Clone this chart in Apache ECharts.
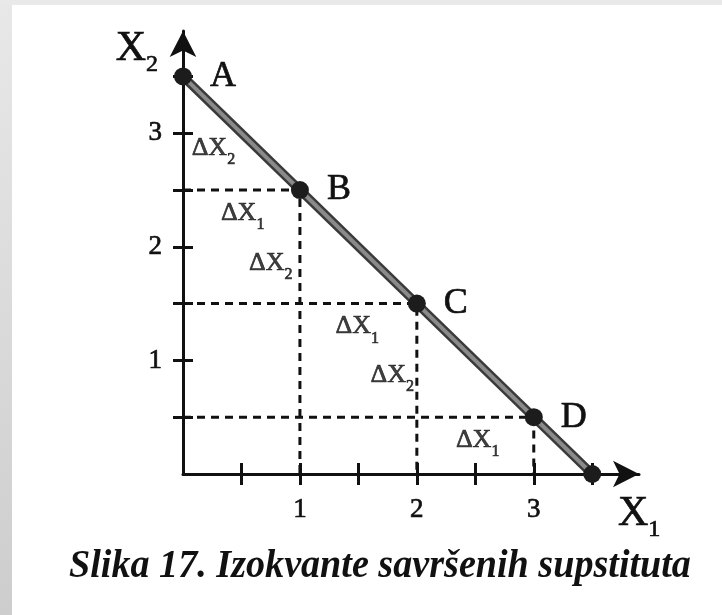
<!DOCTYPE html>
<html>
<head>
<meta charset="utf-8">
<script src="https://cdn.jsdelivr.net/npm/echarts@6/dist/echarts.min.js"></script>
<style>
  html, body { margin: 0; padding: 0; background: #fff; }
  #chart { width: 722px; height: 615px; }
</style>
</head>
<body>
<div id="chart"></div>
<script>
  // isoquant: points A..D and the X1 intercept
  let pointNames = ['A', 'B', 'C', 'D', '']
  let pointX1 = [0, 1, 2, 3, 3.5]
  let pointX2 = [3.5, 2.5, 1.5, 0.5, 0]
  // axes
  let tickValues = [0.5, 1, 1.5, 2, 2.5, 3, 3.5]
  let tickLabels = [1, 2, 3]
  // delta annotations, placed in data units
  let deltaX1 = [0.26, 0.51, 0.75, 1.49, 1.79, 2.52]
  let deltaX2 = [2.87, 2.30, 1.86, 1.30, 0.87, 0.30]
  let deltaSub = ['2', '1', '2', '1', '2', '1']
  let caption = 'Slika 17. Izokvante savršenih supstituta'

  let serif = '"Liberation Serif", "Times New Roman", serif'
  let ink = '#111'
  // scanned print looks heavier than a clean font
  let heavy = { textBorderColor: ink, textBorderWidth: 0.7 }

  let myChart = echarts.init(document.getElementById('chart'))

  let linePts = pointX1.map((x, i) => [x, pointX2[i]])

  let series = []
  // dashed guides from B, C, D to both axes
  for (let i = 1; i <= 3; i++) {
    series.push({
      type: 'line',
      data: [[0, pointX2[i]], [pointX1[i], pointX2[i]], [pointX1[i], 0]],
      showSymbol: false,
      clip: false,
      z: 2,
      lineStyle: { color: ink, width: 3, type: [8, 6] }
    })
  }
  // thick pencil line (dark edge + grey core)
  series.push({
    type: 'line',
    data: linePts,
    showSymbol: false,
    clip: false,
    z: 3,
    lineStyle: { color: '#3a3a3a', width: 9 }
  })
  series.push({
    type: 'line',
    data: linePts.map((p, i) => ({ value: p, name: pointNames[i] })),
    clip: false,
    z: 4,
    symbol: 'circle',
    symbolSize: 18,
    itemStyle: { color: '#1c1c1c' },
    lineStyle: { color: '#8a8a8a', width: 4 },
    label: Object.assign({
      show: true,
      position: 'right',
      distance: 18,
      formatter: p => p.name,
      fontFamily: serif,
      fontSize: 36,
      color: ink
    }, heavy)
  })
  // ΔX labels
  series.push({
    type: 'scatter',
    data: deltaX1.map((x, i) => ({ value: [x, deltaX2[i]], sub: deltaSub[i] })),
    symbolSize: 0,
    z: 5,
    label: {
      show: true,
      position: 'inside',
      formatter: p => '{d|ΔX}{s|' + p.data.sub + '}',
      rich: {
        d: Object.assign({ fontFamily: serif, fontSize: 26, lineHeight: 30, color: ink }, heavy),
        s: Object.assign({ fontFamily: serif, fontSize: 16, lineHeight: 16, padding: [24, 0, 0, 0], color: ink }, heavy)
      }
    }
  })

  let nameRich = {
    d: Object.assign({ fontFamily: serif, fontSize: 42, lineHeight: 46, color: ink }, heavy),
    s: Object.assign({ fontFamily: serif, fontSize: 24, lineHeight: 24, padding: [32, 0, 0, 0], color: ink }, heavy)
  }

  let tickLabelStyle = Object.assign({ fontFamily: serif, fontSize: 27, color: ink }, heavy)

  let axisBase = {
    type: 'value',
    min: 0,
    max: 3.9,
    splitLine: { show: false }
  }

  let option = {
    animation: false,
    backgroundColor: '#fff',
    grid: { left: 183, top: 31, width: 456, height: 443, outerBoundsMode: 'none' },
    xAxis: [
      Object.assign({}, axisBase, {
        position: 'bottom',
        name: '{d|X}{s|1}',
        nameLocation: 'end',
        nameGap: -21,
        nameTextStyle: { rich: nameRich, align: 'left', verticalAlign: 'middle', padding: [80, 0, 0, 0] },
        axisLine: { onZero: false, lineStyle: { color: ink, width: 3 }, symbol: ['none', 'arrow'], symbolSize: [20, 26] },
        axisTick: { customValues: tickValues, length: 11, lineStyle: { color: ink, width: 3 } },
        axisLabel: Object.assign({ customValues: tickLabels, margin: 22 }, tickLabelStyle)
      }),
      Object.assign({}, axisBase, {
        position: 'bottom',
        axisLine: { show: false, onZero: false },
        axisTick: { customValues: tickValues, inside: true, length: 11, lineStyle: { color: ink, width: 3 } },
        axisLabel: { show: false }
      })
    ],
    yAxis: [
      Object.assign({}, axisBase, {
        position: 'left',
        name: '{d|X}{s|2}',
        nameLocation: 'end',
        nameGap: -18,
        nameTextStyle: { rich: nameRich, align: 'right', verticalAlign: 'middle', padding: [0, 25, 0, 0] },
        axisLine: { onZero: false, lineStyle: { color: ink, width: 3 }, symbol: ['none', 'arrow'], symbolSize: [20, 26] },
        axisTick: { customValues: tickValues, length: 10, lineStyle: { color: ink, width: 3 } },
        axisLabel: Object.assign({ customValues: tickLabels, margin: 21 }, tickLabelStyle)
      }),
      Object.assign({}, axisBase, {
        position: 'left',
        axisLine: { show: false, onZero: false },
        axisTick: { customValues: tickValues, inside: true, length: 10, lineStyle: { color: ink, width: 3 } },
        axisLabel: { show: false }
      })
    ],
    graphic: [
      // scan edges
      {
        type: 'rect',
        shape: { x: 0, y: 0, width: 12, height: 615 },
        style: {
          fill: new echarts.graphic.LinearGradient(0, 0, 0, 1, [
            { offset: 0, color: '#e8e8e8' },
            { offset: 1, color: '#cdcdcd' }
          ])
        },
        silent: true
      },
      {
        type: 'rect',
        shape: { x: 0, y: 0, width: 722, height: 5 },
        style: { fill: '#e9e9e9' },
        silent: true
      },
      {
        type: 'text',
        x: 380,
        y: 566,
        scaleX: 0.93,
        style: {
          text: caption,
          fontFamily: serif,
          fontSize: 41,
          fontWeight: 'bold',
          fontStyle: 'italic',
          fill: ink,
          align: 'center',
          verticalAlign: 'middle'
        }
      }
    ],
    series: series
  }
  myChart.setOption(option)
</script>
</body>
</html>
